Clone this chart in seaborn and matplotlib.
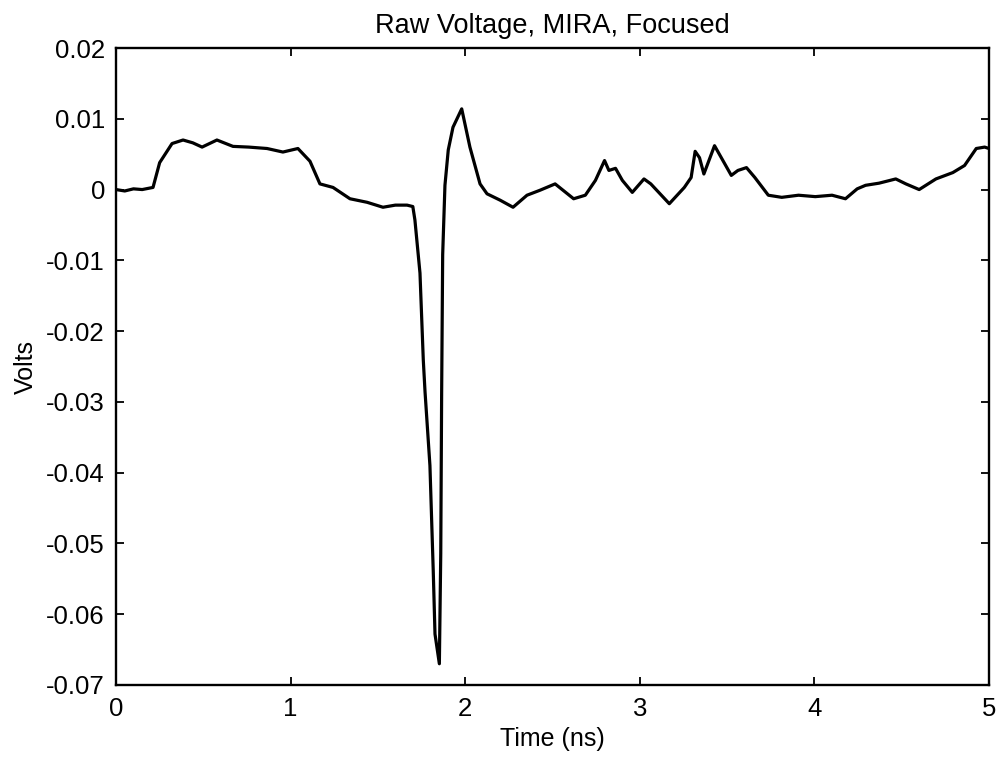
import matplotlib
matplotlib.use("Agg")
import matplotlib.pyplot as plt
import seaborn as sns
import pandas as pd

# ---- data ----
time_ns = [0.0, 0.05, 0.10, 0.15, 0.212, 0.25, 0.321, 0.384, 0.44, 0.493, 0.578, 0.67,
           0.76, 0.865, 0.956, 1.042, 1.111, 1.168, 1.243, 1.34, 1.438, 1.529, 1.60,
           1.667, 1.70, 1.712, 1.741, 1.760, 1.770, 1.798, 1.817, 1.827, 1.852,
           1.860, 1.865, 1.871, 1.884, 1.903, 1.93, 1.98, 2.027, 2.085, 2.125, 2.20,
           2.274, 2.354, 2.428, 2.515, 2.621, 2.688, 2.746, 2.798, 2.823, 2.861, 2.90,
           2.957, 3.024, 3.063, 3.169, 3.255, 3.294, 3.317, 3.342, 3.367, 3.428, 3.476,
           3.524, 3.562, 3.611, 3.659, 3.736, 3.813, 3.909, 4.005, 4.101, 4.178, 4.245,
           4.293, 4.37, 4.466, 4.524, 4.60, 4.696, 4.793, 4.86, 4.927, 4.975, 5.0]
volts = [0.0, -0.0002, 0.0001, 0.0, 0.0003, 0.0038, 0.0065, 0.0070, 0.0066, 0.0060,
         0.0070, 0.0061, 0.0060, 0.0058, 0.0053, 0.0058, 0.0040, 0.0008, 0.0003,
         -0.0013, -0.0018, -0.0025, -0.0022, -0.0022, -0.0024, -0.0043, -0.0118,
         -0.0241, -0.0286, -0.0390, -0.0539, -0.0628, -0.0670, -0.0514, -0.0291,
         -0.0092, 0.0006, 0.0056, 0.0088, 0.0114, 0.0060, 0.0008, -0.0006, -0.0015,
         -0.0025, -0.0008, -0.0001, 0.0008, -0.0013, -0.0008, 0.0013, 0.0041, 0.0027,
         0.0030, 0.0013, -0.0004, 0.0015, 0.0008, -0.0020, 0.0003, 0.0017, 0.0054,
         0.0045, 0.0022, 0.0062, 0.0041, 0.0020, 0.0027, 0.0031, 0.0017, -0.0008,
         -0.0011, -0.0008, -0.0010, -0.0008, -0.0013, 0.0001, 0.0006, 0.0009, 0.0015,
         0.0008, 0.0000, 0.0015, 0.0024, 0.0034, 0.0058, 0.0060, 0.0058]

x_ticks = [0, 1, 2, 3, 4, 5]
x_tick_labels = ["0", "1", "2", "3", "4", "5"]
y_ticks = [0.02, 0.01, 0.0, -0.01, -0.02, -0.03, -0.04, -0.05, -0.06, -0.07]
y_tick_labels = ["0.02", "0.01", "0", "-0.01", "-0.02", "-0.03", "-0.04",
                 "-0.05", "-0.06", "-0.07"]

title = "Raw Voltage, MIRA, Focused"
x_label = "Time (ns)"
y_label = "Volts"

# ---- plotting ----
sns.set_style("ticks")
plt.rcParams["font.family"] = ["Liberation Sans", "DejaVu Sans"]
plt.rcParams["text.color"] = "black"
plt.rcParams["axes.labelcolor"] = "black"

df = pd.DataFrame({"t": time_ns, "v": volts})

fig = plt.figure(figsize=(10, 7.59), dpi=100)
ax = fig.add_axes([0.116, 1 - 685 / 759, (989 - 116) / 1000, (685 - 48) / 759])

sns.lineplot(data=df, x="t", y="v", color="black", linewidth=2.3,
             estimator=None, sort=False, ax=ax)

ax.set_xlim(0, 5)
ax.set_ylim(-0.07, 0.02)
ax.set_xticks(x_ticks)
ax.set_xticklabels(x_tick_labels)
ax.set_yticks(y_ticks)
ax.set_yticklabels(y_tick_labels)

ax.tick_params(direction="in", length=6, width=1.3, top=True, right=True,
               labelsize=18.5, colors="black", pad=8)
ax.tick_params(axis="x", pad=9)
for s in ax.spines.values():
    s.set_visible(True)
    s.set_linewidth(1.7)
    s.set_color("black")

ax.set_title(title, fontsize=19.5, pad=11, color="black")
ax.set_xlabel(x_label, fontsize=18, labelpad=4, color="black")
ax.set_ylabel(y_label, fontsize=18, labelpad=6, color="black")

fig.savefig("out.png", dpi=100, facecolor="white")
